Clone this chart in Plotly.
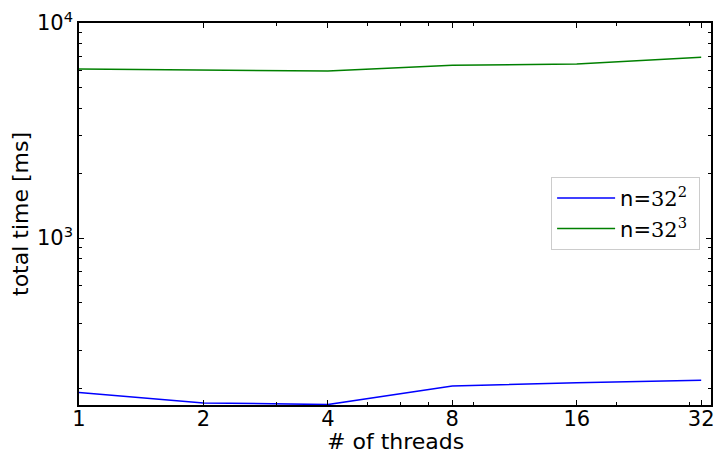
import plotly.graph_objects as go
import math

threads = [1, 2, 4, 8, 16, 32]
time_n32_2 = [191, 171, 168, 205, 212, 218]
time_n32_3 = [6110, 6045, 5980, 6360, 6450, 6930]
x_ticks = [1, 2, 4, 8, 16, 32]
x_minor = [3, 5, 6, 7, 9, 20, 30]
y_ticks = [1000, 10000]
y_ticklabels = ["10<sup>3</sup>", "10<sup>4</sup>"]
y_minor = [200, 300, 400, 500, 600, 700, 800, 900, 2000, 3000, 4000, 5000, 6000, 7000, 8000, 9000]

fig = go.Figure()
fig.add_trace(go.Scatter(x=threads, y=time_n32_2, mode="lines", line=dict(color="#0000ff", width=1.5),
                         name='n=<span style="font-family:DejaVu Serif">32<sup>2</sup></span>&nbsp;'))
fig.add_trace(go.Scatter(x=threads, y=time_n32_3, mode="lines", line=dict(color="#008000", width=1.5),
                         name='n=<span style="font-family:DejaVu Serif">32<sup>3</sup></span>&nbsp;'))

fig.update_layout(
    width=714, height=453,
    margin=dict(l=79, r=3, t=23, b=48, autoexpand=False),
    paper_bgcolor="white", plot_bgcolor="white",
    font=dict(family="DejaVu Sans", size=21, color="black"),
    legend=dict(x=0.747, y=0.597, xanchor="left", yanchor="top",
                bordercolor="#cccccc", borderwidth=1, bgcolor="white",
                font=dict(size=21), tracegroupgap=10, itemwidth=58),
    showlegend=True,
    annotations=[
        dict(text="# of threads", xref="paper", yref="paper", x=0.5, y=-0.096,
             xanchor="center", yanchor="middle", showarrow=False, font=dict(size=22)),
        dict(text="total time [ms]", xref="paper", yref="paper", x=-0.0934, y=0.5,
             xanchor="center", yanchor="middle", textangle=-90, showarrow=False, font=dict(size=22)),
    ],
)
fig.update_xaxes(
    type="log", range=[0, math.log10(33.8)],
    tickvals=x_ticks, ticktext=[str(v) for v in x_ticks],
    ticks="inside", ticklen=5, tickcolor="black", tickwidth=1,
    showline=True, linecolor="black", linewidth=1.5, mirror="allticks",
    showgrid=False, zeroline=False, automargin=False,
    minor=dict(tickvals=x_minor, ticks="inside", ticklen=3, tickcolor="black", showgrid=False),
    tickfont=dict(size=21), ticklabeloverflow="allow", ticklabelstandoff=-6,
)
fig.update_yaxes(
    type="log", range=[math.log10(167.2), 4],
    tickvals=y_ticks, ticktext=y_ticklabels,
    ticks="inside", ticklen=5, tickcolor="black", tickwidth=1,
    showline=True, linecolor="black", linewidth=1.5, mirror="allticks",
    showgrid=False, zeroline=False, automargin=False,
    minor=dict(tickvals=y_minor, ticks="inside", ticklen=3, tickcolor="black", showgrid=False),
    tickfont=dict(size=21), ticklabeloverflow="allow",
)

fig.write_html(
    "out.html",
    config={"displayModeBar": False},
    post_script="document.body.style.margin='0';document.body.style.overflow='hidden';"
                "document.documentElement.style.overflow='hidden';",
)
